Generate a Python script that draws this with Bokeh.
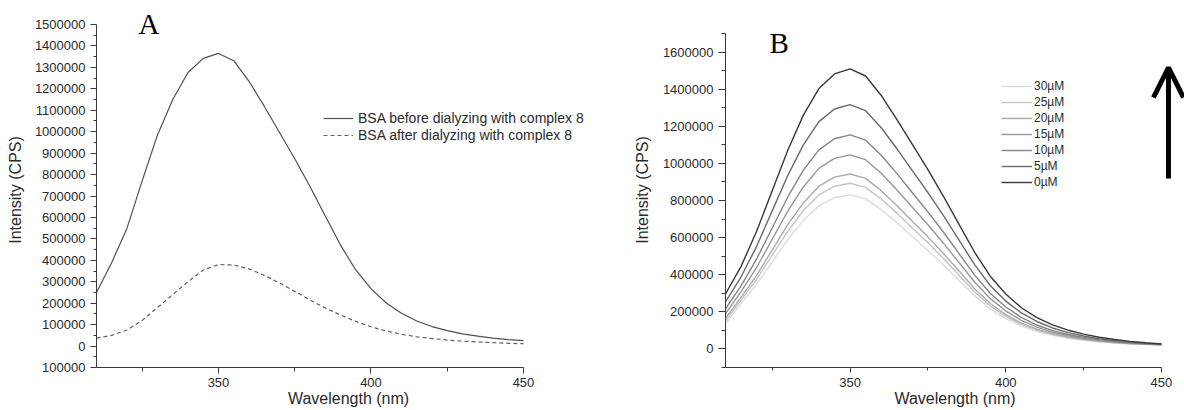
from bokeh.plotting import figure
from bokeh.layouts import row
from bokeh.models import (Range1d, FixedTicker, BasicTickFormatter, Legend, LegendItem,
                          Label, Arrow, OpenHead)
from bokeh.embed import file_html
from bokeh.resources import INLINE

# ---------------- data ----------------
wavelength = [310, 315, 320, 325, 330, 335, 340, 345, 350, 355, 360, 365, 370, 375, 380,
              385, 390, 395, 400, 405, 410, 415, 420, 425, 430, 435, 440, 445, 450]

# Panel A
bsa_before = [250000, 390000, 550000, 772000, 985000, 1150000, 1276000, 1342000, 1365000,
              1331000, 1235000, 1119000, 996000, 874000, 744000, 607000, 471000, 355000, 268000,
              201000, 153000, 117000, 91000, 72000, 57000, 46000, 37000, 30000, 25000]
bsa_after = [37000, 50000, 75000, 120000, 180000, 240000, 300000, 355000, 380000,
             378000, 360000, 330000, 295000, 255000, 215000, 178000, 145000, 115000, 90000,
             70000, 55000, 43000, 35000, 28000, 23000, 19000, 16000, 13000, 11000]
legend_a = ["BSA before dialyzing with complex 8", "BSA after dialyzing with complex 8"]

# Panel B
b_0uM = [296000, 445000, 634000, 853000, 1071000, 1260000, 1403000, 1482000, 1509000,
         1471000, 1366000, 1237000, 1102000, 966000, 822000, 671000, 521000, 392000, 296000,
         222000, 169000, 130000, 101000, 80000, 63000, 51000, 41000, 33000, 27000]
b_5uM = [253000, 389000, 553000, 744000, 935000, 1100000, 1225000, 1293000, 1317000,
         1284000, 1192000, 1080000, 961000, 843000, 718000, 586000, 454000, 342000, 258000,
         194000, 148000, 113000, 88000, 70000, 55000, 45000, 36000, 30000, 26000]
b_10uM = [216000, 340000, 485000, 652000, 819000, 964000, 1073000, 1133000, 1154000,
          1125000, 1044000, 946000, 842000, 739000, 629000, 514000, 398000, 300000, 226000,
          170000, 129000, 99000, 78000, 62000, 49000, 40000, 33000, 28000, 25000]
b_15uM = [189000, 309000, 439000, 591000, 743000, 873000, 973000, 1027000, 1046000,
          1020000, 947000, 858000, 764000, 669000, 570000, 465000, 361000, 272000, 205000,
          154000, 118000, 91000, 71000, 57000, 45000, 37000, 31000, 27000, 24000]
b_20uM = [165000, 278000, 396000, 533000, 670000, 787000, 877000, 926000, 943000,
          919000, 853000, 773000, 688000, 604000, 514000, 420000, 325000, 245000, 185000,
          139000, 107000, 83000, 65000, 52000, 42000, 35000, 29000, 26000, 23000]
b_25uM = [150000, 263000, 375000, 505000, 634000, 746000, 830000, 877000, 893000,
          871000, 808000, 732000, 652000, 572000, 487000, 397000, 308000, 232000, 175000,
          132000, 101000, 79000, 62000, 50000, 40000, 34000, 28000, 25000, 23000]
b_30uM = [135000, 245000, 349000, 469000, 589000, 693000, 772000, 815000, 830000,
          809000, 751000, 681000, 606000, 531000, 452000, 369000, 286000, 216000, 163000,
          123000, 94000, 73000, 58000, 47000, 38000, 32000, 27000, 24000, 22000]
b_labels = ["30µM", "25µM", "20µM", "15µM", "10µM", "5µM", "0µM"]
b_series = [b_30uM, b_25uM, b_20uM, b_15uM, b_10uM, b_5uM, b_0uM]
b_colors = ["#dcdcdc", "#c4c4c4", "#aaaaaa", "#979797", "#858585", "#6a6a6a", "#383838"]

x_major = [350, 400, 450]
x_minor = [325, 375, 425]
a_y_major = list(range(-100000, 1500001, 100000))
a_y_minor = list(range(-50000, 1500000, 100000))
b_y_major = list(range(0, 1600001, 200000))
b_y_minor = list(range(-100000, 1700001, 200000))

FONT = "Liberation Sans"
INK = "#2a2a2a"
AX = "#3a3a3a"


def style_axis(ax, tick_size, label_size, tick_out, minor_out, standoff, label_standoff):
    ax.axis_line_color = AX
    ax.axis_line_width = 1
    ax.major_tick_line_color = AX
    ax.minor_tick_line_color = AX
    ax.major_tick_in = 0
    ax.major_tick_out = tick_out
    ax.minor_tick_in = 0
    ax.minor_tick_out = minor_out
    ax.major_label_standoff = standoff
    ax.major_label_text_font = FONT
    ax.major_label_text_font_size = tick_size
    ax.major_label_text_color = INK
    ax.axis_label_text_font = FONT
    ax.axis_label_text_font_size = label_size
    ax.axis_label_text_font_style = "normal"
    ax.axis_label_text_color = INK
    ax.axis_label_standoff = label_standoff


def base_fig(width, height, xr, yr, borders):
    l, r, t, b = borders
    p = figure(width=width, height=height, x_range=Range1d(*xr), y_range=Range1d(*yr),
               output_backend="svg", toolbar_location=None,
               min_border_left=l, min_border_right=r, min_border_top=t, min_border_bottom=b)
    try:
        p.title = None
    except Exception:
        p.title.visible = False
    p.grid.visible = False
    p.outline_line_color = None
    p.background_fill_color = "white"
    p.border_fill_color = "white"
    p.xaxis.axis_label = "Wavelength (nm)"
    p.yaxis.axis_label = "Intensity (CPS)"
    p.xaxis.ticker = FixedTicker(ticks=x_major, minor_ticks=x_minor)
    p.xaxis.bounds = (310, 450)
    p.yaxis.formatter = BasicTickFormatter(use_scientific=False)
    return p


# ---------------- panel A ----------------
pA = base_fig(600, 410, (310, 475.25), (-100000, 1555977), (96, 0, 12, 43))
pA.yaxis.ticker = FixedTicker(ticks=a_y_major, minor_ticks=a_y_minor)
pA.yaxis.bounds = (-100000, 1500000)
pA.yaxis.major_label_overrides = {-100000: "100000"}
style_axis(pA.xaxis[0], "13px", "16px", 6, 4, 4, 0)
style_axis(pA.yaxis[0], "13px", "16px", 6, 3, 5, 8)

ra1 = pA.line(wavelength, bsa_before, line_color="#505050", line_width=1.2, line_join="round")
ra2 = pA.line(wavelength, bsa_after, line_color="#606060", line_width=1.2, line_dash="4 3",
              line_join="round")

legA = Legend(items=[LegendItem(label=legend_a[0], renderers=[ra1]),
                     LegendItem(label=legend_a[1], renderers=[ra2])],
              location=(227, 224), padding=0, margin=0, spacing=1,
              glyph_width=30, glyph_height=16, label_height=16, label_standoff=5,
              label_text_font=FONT, label_text_font_size="14px", label_text_color=INK,
              border_line_color=None, background_fill_alpha=0)
pA.add_layout(legA)
pA.add_layout(Label(x=323.8, y=1504657, text="A", text_font="Liberation Serif",
                    text_font_size="29px", text_color="black", text_baseline="alphabetic"))

# ---------------- panel B ----------------
pB = base_fig(584, 410, (310, 457.4), (-100000, 1813174), (125, 0, 12, 43))
pB.yaxis.ticker = FixedTicker(ticks=b_y_major, minor_ticks=b_y_minor)
pB.yaxis.bounds = (-100000, 1700000)
style_axis(pB.xaxis[0], "13px", "16px", 5, 3, 5, 0)
style_axis(pB.yaxis[0], "13px", "16px", 7, 4, 5, 9)

items = []
for lab, ys, col in zip(b_labels, b_series, b_colors):
    r = pB.line(wavelength, ys, line_color=col, line_width=1.4, line_join="round")
    items.append(LegendItem(label=lab, renderers=[r]))

legB = Legend(items=items, location=(276, 178), padding=0, margin=0, spacing=2,
              glyph_width=31, glyph_height=14, label_height=14, label_standoff=2,
              label_text_font=FONT, label_text_font_size="12px", label_text_color=INK,
              border_line_color=None, background_fill_alpha=0)
pB.add_layout(legB)
pB.add_layout(Label(x=324.1, y=1651490, text="B", text_font="Liberation Serif",
                    text_font_size="29px", text_color="black", text_baseline="alphabetic"))
pB.add_layout(Arrow(end=OpenHead(size=30, line_width=5, line_color="black"),
                    x_start=452.25, y_start=918561, x_end=452.25, y_end=1516766,
                    line_width=5, line_color="black"))

layout = row(pA, pB)
open("out.html", "w").write(file_html(layout, INLINE))
